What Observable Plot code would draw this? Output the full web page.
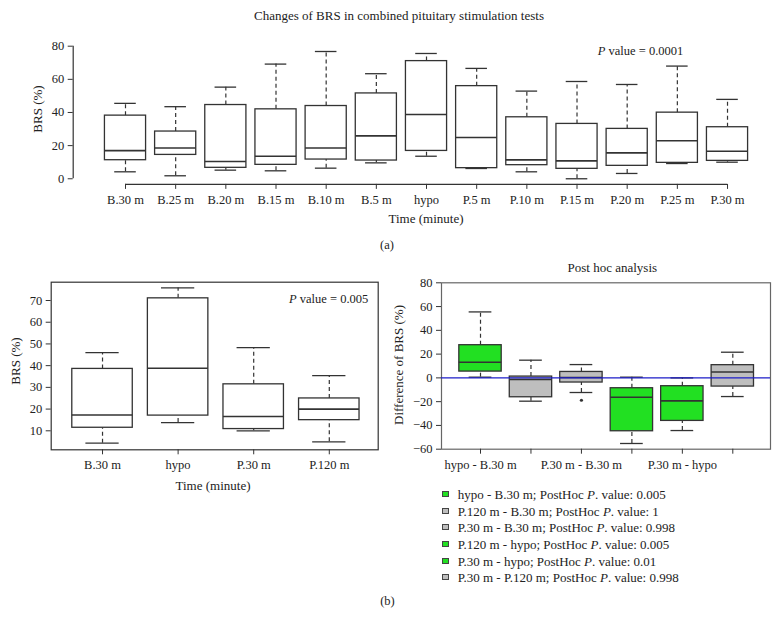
<!DOCTYPE html>
<html><head><meta charset="utf-8">
<script src="https://cdn.jsdelivr.net/npm/d3@7"></script>
<script src="https://cdn.jsdelivr.net/npm/@observablehq/plot@0.6"></script>
<style>
body{margin:0;background:#fff;}
#root{position:relative;width:778px;height:627px;font-family:"Liberation Serif","Times New Roman",serif;color:#222;overflow:hidden;}
.t{position:absolute;white-space:nowrap;font-size:13px;line-height:1;}
#root svg{position:absolute;}
.sq{position:absolute;width:5px;height:4px;border:1px solid #444;}
</style></head><body><div id="root"></div>
<script>
// ---- Panel (a): BRS (%) over time ----
const timeCats = ["B.30 m","B.25 m","B.20 m","B.15 m","B.10 m","B.5 m","hypo","P.5 m","P.10 m","P.15 m","P.20 m","P.25 m","P.30 m"];
const timeLow  = [4.2, 1.8, 5.2, 4.8, 6.4, 9.6, 13.6, 6.2, 4.2, 0.0, 3.2, 9.2, 10.0];
const timeQ1   = [11.2, 14.4, 6.6, 8.4, 11.6, 11.0, 16.8, 6.4, 8.2, 6.0, 7.8, 9.6, 10.8];
const timeMed  = [17.0, 18.6, 10.4, 13.6, 18.6, 25.9, 38.8, 24.9, 11.4, 10.8, 15.6, 22.9, 16.6];
const timeQ3   = [38.1, 28.5, 44.5, 41.9, 43.9, 51.5, 71.0, 55.9, 37.1, 33.1, 30.1, 39.9, 31.1];
const timeHigh = [45.5, 43.5, 55.3, 69.2, 76.8, 63.4, 75.6, 66.6, 52.9, 58.7, 56.9, 68.0, 47.9];
const timeTicks = [0, 20, 40, 60, 80];
const timeP = "0.0001";

// ---- Panel (b) left: selected time points ----
const selCats = ["B.30 m","hypo","P.30 m","P.120 m"];
const selLow  = [4.3, 13.8, 10.0, 4.9];
const selQ1   = [11.4, 17.0, 10.8, 14.9];
const selMed  = [17.3, 38.8, 16.6, 20.0];
const selQ3   = [38.5, 71.0, 31.4, 24.9];
const selHigh = [46.0, 75.8, 48.3, 35.4];
const selTicks = [10, 20, 30, 40, 50, 60, 70];
const selP = "0.005";

// ---- Panel (b) right: post hoc differences ----
const diffCats = ["hypo - B.30 m","P.120 m - B.30 m","P.30 m - B.30 m","P.120 m - hypo","P.30 m - hypo","P.30 m - P.120 m"];
const diffShown = ["hypo - B.30 m","","P.30 m - B.30 m","","P.30 m - hypo",""];
const diffPvals = ["0.005","1","0.998","0.005","0.01","0.998"];
const diffLow  = [0.6, -19.6, -12.3, -55.2, -44.3, -15.7];
const diffQ1   = [5.3, -16.3, -3.9, -44.9, -36.2, -7.3];
const diffMed  = [13.2, -1.4, 0.3, -16.3, -19.3, 5.0];
const diffQ3   = [27.5, 1.1, 5.0, -8.7, -7.0, 10.7];
const diffHigh = [55.5, 14.9, 11.2, 0.6, 0.0, 21.6];
const diffOutCat = [2];
const diffOutVal = [-18.8];
const diffTicks = [-60, -40, -20, 0, 20, 40, 60, 80];

const GREEN = "#22e022", GREY = "#bebebe", INK = "#333";
const sigColor = p => (+p < 0.05 ? GREEN : GREY);

const root = document.getElementById("root");
const font = {fontFamily: '"Liberation Serif","Times New Roman",serif', fontSize: "12.5px", background: "transparent", overflow: "visible", color: "#222"};

function boxMarks(lo, q1, med, q3, hi, half, cap, fills) {
  const rows = lo.map((_, i) => ({i, lo: lo[i], q1: q1[i], med: med[i], q3: q3[i], hi: hi[i], fill: fills ? fills[i] : "white"}));
  return [
    Plot.ruleX(rows, {x: "i", y1: "q3", y2: "hi", stroke: INK, strokeWidth: 1.2, strokeDasharray: "4,3"}),
    Plot.ruleX(rows, {x: "i", y1: "lo", y2: "q1", stroke: INK, strokeWidth: 1.2, strokeDasharray: "4,3"}),
    Plot.ruleY(rows, {y: "hi", x1: d => d.i - cap, x2: d => d.i + cap, stroke: INK, strokeWidth: 1.3}),
    Plot.ruleY(rows, {y: "lo", x1: d => d.i - cap, x2: d => d.i + cap, stroke: INK, strokeWidth: 1.3}),
    Plot.rect(rows, {x1: d => d.i - half, x2: d => d.i + half, y1: "q1", y2: "q3", fill: "fill", stroke: INK, strokeWidth: 1.3}),
    Plot.ruleY(rows, {y: "med", x1: d => d.i - half, x2: d => d.i + half, stroke: INK, strokeWidth: 1.6})
  ];
}

function place(svg, left, top) {
  svg.style.left = left + "px";
  svg.style.top = top + "px";
  root.appendChild(svg);
}

function text(html, x, y, anchor = "middle", size = 13, rotate = 0) {
  const d = document.createElement("div");
  d.className = "t";
  d.innerHTML = html;
  d.style.left = x + "px";
  d.style.top = y + "px";
  d.style.fontSize = size + "px";
  const tx = anchor === "middle" ? "-50%" : anchor === "end" ? "-100%" : "0";
  d.style.transform = `translate(${tx},-50%)` + (rotate ? ` rotate(${rotate}deg)` : "");
  if (rotate) d.style.transform = `translate(-50%,-50%) rotate(${rotate}deg)`;
  root.appendChild(d);
}

// ---------- Panel (a) ----------
const aXDomain = [-1.0425, timeCats.length - 0.5];
const aYDomain = [-3.4, 80.3];
const plotA = Plot.plot({
  width: 778, height: 232,
  marginTop: 45.2, marginBottom: 48.1, marginLeft: 72.7, marginRight: 25.9,
  style: font,
  color: {type: "identity"},
  x: {domain: aXDomain, axis: null},
  y: {domain: aYDomain, axis: null},
  marks: [
    Plot.ruleX([aXDomain[0]], {y1: timeTicks[0], y2: timeTicks[timeTicks.length - 1], stroke: INK, strokeWidth: 1.2}),
    Plot.axisY(timeTicks, {anchor: "left", tickSize: 5, tickPadding: 4, label: null, stroke: INK, fontSize: 12.5}),
    Plot.ruleY([aYDomain[0]], {x1: 0, x2: timeCats.length - 1, stroke: INK, strokeWidth: 1.2}),
    Plot.axisX(d3.range(timeCats.length), {anchor: "bottom", tickSize: 5, tickPadding: 6, tickFormat: i => timeCats[i], label: null, stroke: INK, fontSize: 12.5}),
    ...boxMarks(timeLow, timeQ1, timeMed, timeQ3, timeHigh, 0.41, 0.215)
  ]
});
place(plotA, 0, 0);
text("Changes of BRS in combined pituitary stimulation tests", 399, 15, "middle", 13);
text(`<i>P</i> value = ${timeP}`, 683.3, 50.7, "end", 12.5);
text("BRS (%)", 36.7, 108.8, "middle", 13, -90);
text("Time (minute)", 426, 218, "middle", 13);
text("(a)", 387, 245, "middle", 12.5);

// ---------- Panel (b) left ----------
const plotB = Plot.plot({
  width: 390, height: 250,
  marginTop: 31.7, marginBottom: 50.7, marginLeft: 50.7, marginRight: 12.3,
  style: font,
  color: {type: "identity"},
  x: {domain: [-0.679, selCats.length - 0.353], axis: null},
  y: {domain: [1.25, 78.43], axis: null},
  marks: [
    Plot.frame({stroke: INK, strokeWidth: 1.2}),
    Plot.axisY(selTicks, {anchor: "left", tickSize: 5, tickPadding: 4, label: null, stroke: INK, fontSize: 12.5}),
    Plot.axisX(d3.range(selCats.length), {anchor: "bottom", tickSize: 5, tickPadding: 5, tickFormat: i => selCats[i], label: null, stroke: INK, fontSize: 12.5}),
    ...boxMarks(selLow, selQ1, selMed, selQ3, selHigh, 0.4, 0.22)
  ]
});
place(plotB, 0, 250);
text(`<i>P</i> value = ${selP}`, 368.3, 299.3, "end", 12.5);
text("BRS (%)", 15, 361, "middle", 13, -90);
text("Time (minute)", 213, 485, "middle", 13);

// ---------- Panel (b) right ----------
const diffFills = diffPvals.map(sigColor);
const plotC = Plot.plot({
  width: 388, height: 230,
  marginTop: 32.3, marginBottom: 31.3, marginLeft: 51, marginRight: 8,
  style: font,
  color: {type: "identity"},
  x: {domain: [-0.773, diffCats.length - 0.253], axis: null},
  y: {domain: [diffTicks[0], diffTicks[diffTicks.length - 1]], axis: null},
  marks: [
    Plot.frame({stroke: "#666", strokeWidth: 1.2}),
    Plot.axisY(diffTicks, {anchor: "left", tickSize: 5, tickPadding: 4, label: null, stroke: INK, fontSize: 12.5}),
    Plot.axisX(d3.range(diffCats.length), {anchor: "bottom", tickSize: 5, tickPadding: 6, tickFormat: i => diffShown[i], label: null, stroke: INK, fontSize: 12.5}),
    ...boxMarks(diffLow, diffQ1, diffMed, diffQ3, diffHigh, 0.42, 0.225, diffFills),
    Plot.dot(diffOutCat.map((c, k) => ({c, v: diffOutVal[k]})), {x: "c", y: "v", r: 1.6, fill: INK, stroke: "none"}),
    Plot.ruleY([0], {stroke: "#1c1cc8", strokeWidth: 1.2})
  ]
});
place(plotC, 390, 250);
text("Post hoc analysis", 612.3, 267, "middle", 13);
text("Difference of BRS (%)", 398, 365, "middle", 13, -90);

// Legend
const legendY = [494, 511, 527.3, 543.6, 560.5, 577.3];
diffCats.forEach((c, i) => {
  const s = document.createElement("div");
  s.className = "sq";
  s.style.left = "442px";
  s.style.top = (legendY[i] - 3) + "px";
  s.style.background = diffFills[i];
  root.appendChild(s);
  text(`${c}; PostHoc <i>P</i>. value: ${diffPvals[i]}`, 457.7, legendY[i], "start", 13);
});
text("(b)", 387.5, 600.7, "middle", 12.5);
</script></body></html>
